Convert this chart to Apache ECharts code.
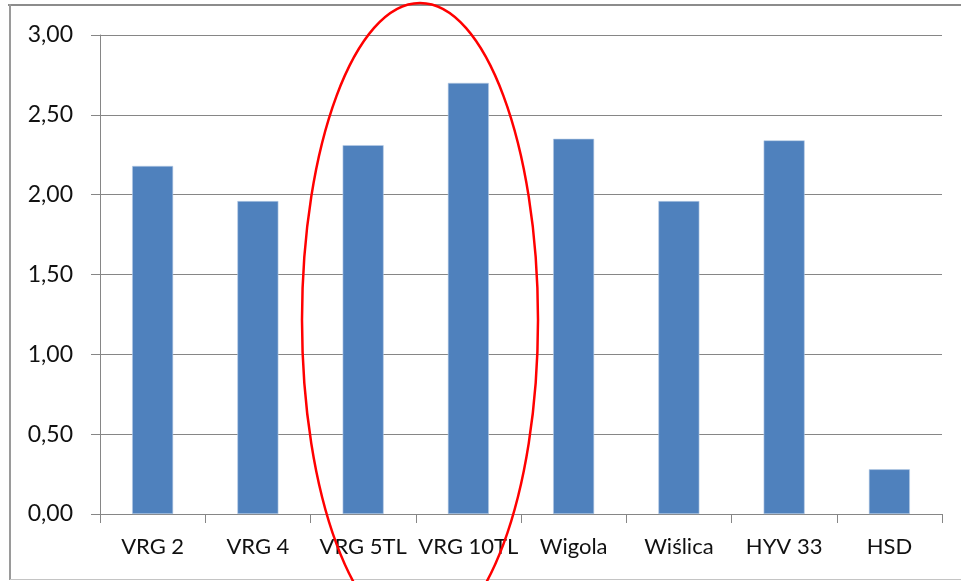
<!DOCTYPE html>
<html>
<head>
<meta charset="utf-8">
<script src="https://cdn.jsdelivr.net/npm/echarts@6/dist/echarts.min.js"></script>
<style>
html,body{margin:0;padding:0;background:#fff;}
#c{width:961px;height:581px;}
</style>
</head>
<body>
<div id="c"></div>
<script>
const categories = ['VRG 2', 'VRG 4', 'VRG 5TL', 'VRG 10TL', 'Wigola', 'Wiślica', 'HYV 33', 'HSD'];
const values = [2.18, 1.96, 2.31, 2.70, 2.35, 1.96, 2.34, 0.28];
const yTicks = { min: 0, max: 3, interval: 0.5 };

const chart = echarts.init(document.getElementById('c'), null, { renderer: 'canvas' });
const font = 'Lato, "Noto Sans", sans-serif';
chart.setOption({
  animation: false,
  backgroundColor: '#ffffff',
  grid: { left: 100, right: 19, top: 35, bottom: 67, containLabel: false },
  xAxis: {
    type: 'category',
    data: categories,
    axisLine: { show: true, lineStyle: { color: '#868686', width: 1 } },
    axisTick: { show: true, alignWithLabel: false, length: 9, lineStyle: { color: '#868686' } },
    axisLabel: { color: '#111111', fontFamily: font, fontSize: 22, margin: 22, interval: 0 }
  },
  yAxis: {
    type: 'value',
    min: yTicks.min, max: yTicks.max, interval: yTicks.interval,
    axisLine: { show: true, lineStyle: { color: '#868686', width: 1 } },
    axisTick: { show: true, inside: false, length: 9, lineStyle: { color: '#868686' } },
    splitLine: { show: true, lineStyle: { color: '#868686', width: 1 } },
    axisLabel: {
      color: '#111111', fontFamily: font, fontSize: 23, margin: 27,
      formatter: v => v.toFixed(2).replace('.', ',')
    }
  },
  series: [{
    type: 'bar',
    data: values,
    barWidth: 41,
    itemStyle: { color: '#4f81bd', borderColor: '#b9cde5', borderWidth: 0.6 }
  }],
  graphic: [
    { type: 'line', shape: { x1: 8, y1: 5, x2: 961, y2: 5 }, style: { stroke: '#8c8c8c', lineWidth: 2 }, z: 100 },
    { type: 'line', shape: { x1: 10, y1: 4, x2: 10, y2: 580 }, style: { stroke: '#9a9a9a', lineWidth: 2 }, z: 100 },
    { type: 'line', shape: { x1: 10, y1: 579.5, x2: 961, y2: 579.5 }, style: { stroke: '#c4c4c4', lineWidth: 1 }, z: 100 },
    { type: 'ellipse', shape: { cx: 420, cy: 320, rx: 118, ry: 317 }, style: { fill: null, stroke: '#ff0000', lineWidth: 2.5 }, z: 200 }
  ]
});
</script>
</body>
</html>
